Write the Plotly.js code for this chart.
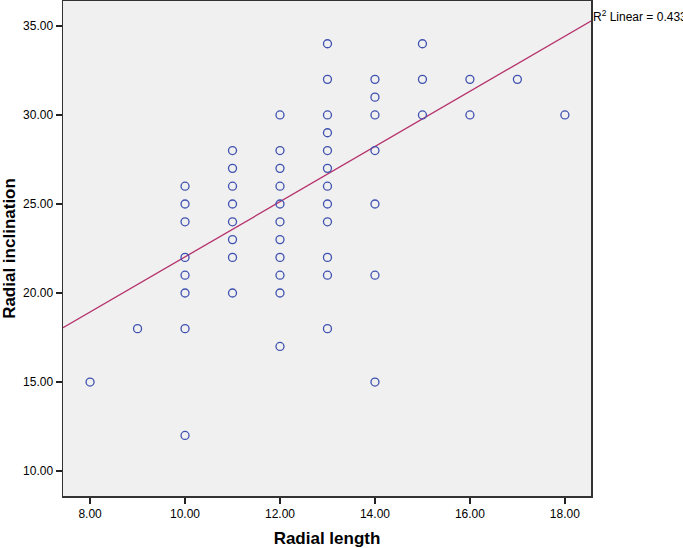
<!DOCTYPE html>
<html>
<head>
<meta charset="utf-8">
<script src="https://cdn.plot.ly/plotly-3.0.1.min.js"></script>
<style>
  html, body { margin: 0; padding: 0; background: #fff; }
  #chart { width: 683px; height: 548px; }
</style>
</head>
<body>
<div id="chart"></div>
<script>
// radial length (x) and radial inclination (y), one entry per case
var radialLength = [
    8,
    9,
    10, 10, 10, 10, 10, 10, 10, 10,
    11, 11, 11, 11, 11, 11, 11, 11,
    12, 12, 12, 12, 12, 12, 12, 12, 12, 12, 12,
    13, 13, 13, 13, 13, 13, 13, 13, 13, 13, 13, 13,
    14, 14, 14, 14, 14, 14, 14,
    15, 15, 15,
    16, 16,
    17,
    18
];
var radialInclination = [
    15,
    18,
    26, 25, 24, 22, 21, 20, 18, 12,
    28, 27, 26, 25, 24, 23, 22, 20,
    30, 28, 27, 26, 25, 24, 23, 22, 21, 20, 17,
    34, 32, 30, 29, 28, 27, 26, 25, 24, 22, 21, 18,
    32, 31, 30, 28, 25, 21, 15,
    34, 32, 30,
    32, 30,
    32,
    30
];

// fit line as drawn in the original output
var fitSlope = 1.549;
var fitIntercept = 6.54;
var xRange = [7.43, 18.55];
var yRange = [8.6, 36.4];
var rSquaredLabel = "R<sup>2</sup> Linear = 0.433";

var fitX = xRange.slice();
var fitY = fitX.map(function(x) { return fitIntercept + fitSlope * x; });

var points = {
    x: radialLength,
    y: radialInclination,
    mode: 'markers',
    type: 'scatter',
    marker: {
        symbol: 'circle-open',
        size: 8,
        color: '#3f51b0',
        line: { width: 1.3, color: '#3f51b0' }
    },
    hoverinfo: 'x+y'
};

var fitLine = {
    x: fitX,
    y: fitY,
    mode: 'lines',
    type: 'scatter',
    line: { color: '#b5306b', width: 1.3 },
    hoverinfo: 'skip'
};

var axisFont = { family: 'Liberation Sans, Arial, sans-serif', size: 12, color: '#000' };
var titleFont = { family: 'Liberation Sans, Arial, sans-serif', size: 17, color: '#000', weight: 'bold' };

var layout = {
    width: 683,
    height: 548,
    margin: { l: 63, r: 92, t: 1, b: 52 },
    paper_bgcolor: '#ffffff',
    plot_bgcolor: '#f0f0f0',
    showlegend: false,
    font: axisFont,
    xaxis: {
        range: xRange,
        tickvals: [8, 10, 12, 14, 16, 18],
        ticktext: ['8.00', '10.00', '12.00', '14.00', '16.00', '18.00'],
        ticks: 'outside',
        ticklen: 6,
        tickwidth: 1.5,
        tickcolor: '#222',
        showgrid: false,
        zeroline: false,
        showline: true,
        linecolor: '#333',
        linewidth: 1.5,
        mirror: true,
        tickfont: axisFont,
        title: { text: 'Radial length', font: titleFont, standoff: 12 }
    },
    yaxis: {
        range: yRange,
        tickvals: [10, 15, 20, 25, 30, 35],
        ticktext: ['10.00', '15.00', '20.00', '25.00', '30.00', '35.00'],
        ticks: 'outside',
        ticklen: 6,
        tickwidth: 1.5,
        tickcolor: '#222',
        showgrid: false,
        zeroline: false,
        showline: true,
        linecolor: '#333',
        linewidth: 1.5,
        mirror: true,
        tickfont: axisFont,
        title: { text: 'Radial inclination', font: titleFont, standoff: 8 }
    },
    annotations: [{
        xref: 'paper',
        yref: 'paper',
        x: 1,
        y: 0.99,
        xanchor: 'left',
        yanchor: 'top',
        xshift: 0,
        text: rSquaredLabel,
        showarrow: false,
        font: { family: 'Liberation Sans, Arial, sans-serif', size: 12, color: '#000' }
    }]
};

Plotly.newPlot('chart', [fitLine, points], layout, { displayModeBar: false, staticPlot: true });
</script>
</body>
</html>
